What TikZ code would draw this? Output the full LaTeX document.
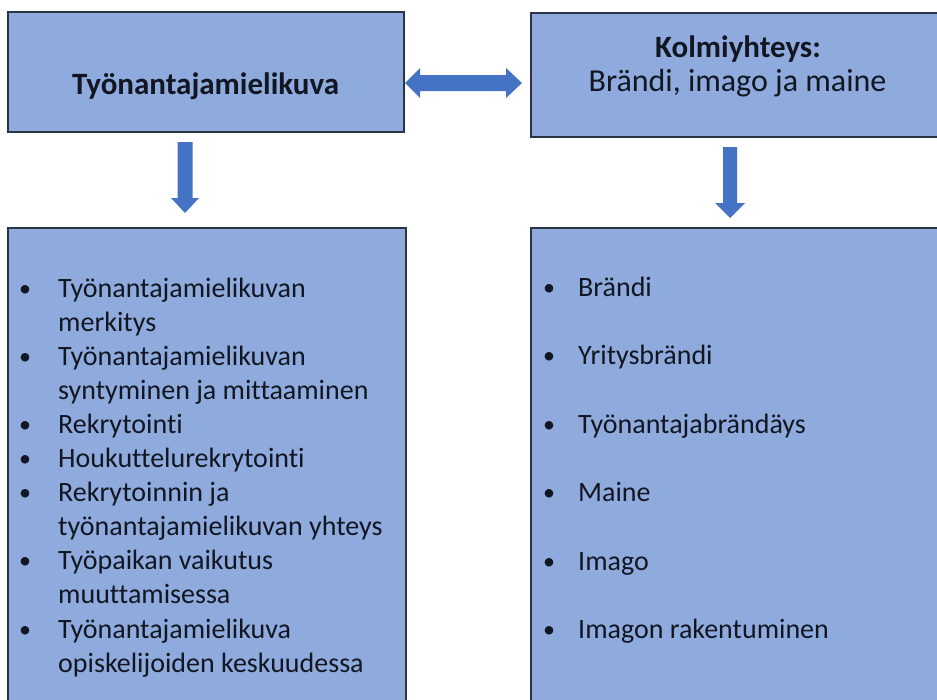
\documentclass[tikz,border=0pt]{standalone}
\usepackage{fontspec}
\setmainfont{Carlito}[Ligatures=NoCommon]
\usetikzlibrary{calc}
\definecolor{boxfill}{HTML}{8FAADC}
\definecolor{boxline}{HTML}{2B3442}
\definecolor{arrowblue}{HTML}{4472C4}
\definecolor{txt}{HTML}{121622}
\begin{document}
\begin{tikzpicture}[x=1pt,y=-1pt,
  box/.style={draw=boxline,line width=1.6pt,fill=boxfill,anchor=north west,inner sep=0pt},
  fat/.style={fill=arrowblue},
  head/.style={text=txt,font=\fontsize{31}{37}\selectfont,anchor=base,inner sep=0pt},
  item/.style={text=txt,font=\fontsize{28}{34}\selectfont,anchor=base west,inner sep=0pt},
  bul/.style={text=txt,font=\fontsize{24}{30}\selectfont,anchor=base,inner sep=0pt}]
\useasboundingbox (0,0) rectangle (937,699);
\fill[white] (0,0) rectangle (937,699);
\begin{scope}
\clip (0,0) rectangle (937,699);
% boxes
\node[box,minimum width=396pt,minimum height=120pt] (tl) at (7,11) {};
\node[box,minimum width=415pt,minimum height=124pt] (tr) at (530,12) {};
\node[box,minimum width=398pt,minimum height=490pt] (bl) at (7,227) {};
\node[box,minimum width=415pt,minimum height=490pt] (br) at (530,227) {};
\end{scope}
% headings
\node[head,font=\bfseries\fontsize{31}{37}\selectfont] (t1) at (205.5,94) {Työnantajamielikuva};
\node[head,font=\bfseries\fontsize{31}{37}\selectfont] (t2) at (738,57) {Kolmiyhteys:};
\node[head,font=\fontsize{32}{38}\selectfont] (t3) at (737.5,91) {Brändi, imago ja maine};
% double arrow
\coordinate (da1) at (405,83);
\coordinate (da2) at (522,83);
\fill[fat] (da1) -- ($(da1)+(15,-15)$) -- ($(da1)+(15,-8)$) -- ($(da2)+(-16,-8)$) -- ($(da2)+(-16,-15)$) -- (da2)
  -- ($(da2)+(-16,15)$) -- ($(da2)+(-16,8)$) -- ($(da1)+(15,8)$) -- ($(da1)+(15,15)$) -- cycle;
% down arrows
\coordinate (la1) at (185,142);
\coordinate (la2) at (185,213);
\fill[fat] ($(la1)+(-7.5,0)$) -- ($(la1)+(7.5,0)$) -- ($(la2)+(7.5,-15)$) -- ($(la2)+(14,-15)$) -- (la2)
  -- ($(la2)+(-14,-15)$) -- ($(la2)+(-7.5,-15)$) -- cycle;
\coordinate (ra1) at (730,147);
\coordinate (ra2) at (730,218);
\fill[fat] ($(ra1)+(-7,0)$) -- ($(ra1)+(7,0)$) -- ($(ra2)+(7,-15)$) -- ($(ra2)+(15,-15)$) -- (ra2)
  -- ($(ra2)+(-15,-15)$) -- ($(ra2)+(-7,-15)$) -- cycle;
% left list
\foreach \t [count=\i] in {Työnantajamielikuvan,merkitys,Työnantajamielikuvan,syntyminen ja mittaaminen,Rekrytointi,Houkuttelurekrytointi,Rekrytoinnin ja,työnantajamielikuvan yhteys,Työpaikan vaikutus,muuttamisessa,Työnantajamielikuva,opiskelijoiden keskuudessa}
  \node[item] (l\i) at (58,{297+34.1*(\i-1)}) {\t};
\foreach \i in {1,3,5,6,7,9,11}
  \node[bul] (lb\i) at (25,{296+34.1*(\i-1)}) {•};
% right list
\foreach \t [count=\i] in {Brändi,Yritysbrändi,Työnantajabrändäys,Maine,Imago,Imagon rakentuminen}{
  \node[item] (r\i) at (578,{296+68.5*(\i-1)}) {\t};
  \node[bul] (rb\i) at (549,{295+68.5*(\i-1)}) {•};
}
\end{tikzpicture}
\end{document}
